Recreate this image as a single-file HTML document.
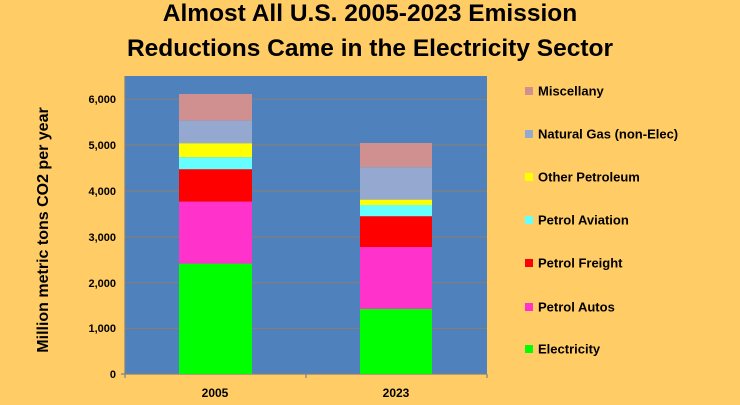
<!DOCTYPE html>
<html><head><meta charset="utf-8"><style>
body{margin:0;background:#FFCC66;}
</style></head><body>
<svg width="740" height="400" xmlns="http://www.w3.org/2000/svg" font-family="Liberation Sans, sans-serif" font-weight="bold">
<rect width="740" height="400" fill="#FFCC66"/>
<text x="370" y="21" font-size="24.5" text-anchor="middle" fill="#000">Almost All U.S. 2005-2023 Emission</text>
<text x="370" y="56" font-size="24.5" text-anchor="middle" fill="#000">Reductions Came in the Electricity Sector</text>
<rect x="125" y="76" width="362" height="298" fill="#4F81BD"/>
<g stroke="#808080" stroke-width="1.2">
<line x1="125" y1="99.3" x2="487" y2="99.3"/>
<line x1="125" y1="145" x2="487" y2="145"/>
<line x1="125" y1="191" x2="487" y2="191"/>
<line x1="125" y1="237" x2="487" y2="237"/>
<line x1="125" y1="282.7" x2="487" y2="282.7"/>
<line x1="125" y1="328.5" x2="487" y2="328.5"/>
<line x1="125" y1="76" x2="125" y2="374"/>
<line x1="121" y1="374" x2="487" y2="374"/>
<line x1="125" y1="374" x2="125" y2="378"/>
<line x1="306" y1="374" x2="306" y2="378"/>
<line x1="487" y1="374" x2="487" y2="378"/>
</g>
<g>
<rect x="179" y="94" width="73" height="26.7" fill="#D09090"/>
<rect x="179" y="120.7" width="73" height="22.6" fill="#95A8D0"/>
<rect x="179" y="143.3" width="73" height="14" fill="#FFFF00"/>
<rect x="179" y="157.3" width="73" height="12" fill="#66FFFF"/>
<rect x="179" y="169.3" width="73" height="32.4" fill="#FF0000"/>
<rect x="179" y="201.7" width="73" height="62" fill="#FF33CC"/>
<rect x="179" y="263.7" width="73" height="110.3" fill="#00FF00"/>
<rect x="360" y="143" width="72" height="24.3" fill="#D09090"/>
<rect x="360" y="167.3" width="72" height="32.4" fill="#95A8D0"/>
<rect x="360" y="199.7" width="72" height="5.3" fill="#FFFF00"/>
<rect x="360" y="205" width="72" height="11.3" fill="#66FFFF"/>
<rect x="360" y="216.3" width="72" height="30.7" fill="#FF0000"/>
<rect x="360" y="247" width="72" height="62" fill="#FF33CC"/>
<rect x="360" y="309" width="72" height="65" fill="#00FF00"/>
</g>
<g font-size="11" text-anchor="end" fill="#000">
<text x="116" y="103">6,000</text>
<text x="116" y="149">5,000</text>
<text x="116" y="195">4,000</text>
<text x="116" y="241">3,000</text>
<text x="116" y="287">2,000</text>
<text x="116" y="332">1,000</text>
<text x="116" y="378">0</text>
</g>
<g font-size="12" text-anchor="middle">
<text x="215" y="397">2005</text>
<text x="396" y="397">2023</text>
</g>
<text transform="translate(48,230) rotate(-90)" font-size="16" text-anchor="middle">Million metric tons CO2 per year</text>
<g font-size="13">
<rect x="525" y="87" width="8" height="8" fill="#D09090"/><text x="538" y="95.5">Miscellany</text>
<rect x="525" y="130" width="8" height="8" fill="#95A8D0"/><text x="538" y="138.5">Natural Gas (non-Elec)</text>
<rect x="525" y="173" width="8" height="8" fill="#FFFF00"/><text x="538" y="181.5">Other Petroleum</text>
<rect x="525" y="216" width="8" height="8" fill="#66FFFF"/><text x="538" y="224.5">Petrol Aviation</text>
<rect x="525" y="259" width="8" height="8" fill="#FF0000"/><text x="538" y="267.5">Petrol Freight</text>
<rect x="525" y="303" width="8" height="8" fill="#FF33CC"/><text x="538" y="311.5">Petrol Autos</text>
<rect x="525" y="345" width="8" height="8" fill="#00FF00"/><text x="538" y="353.5">Electricity</text>
</g>
</svg>
</body></html>
